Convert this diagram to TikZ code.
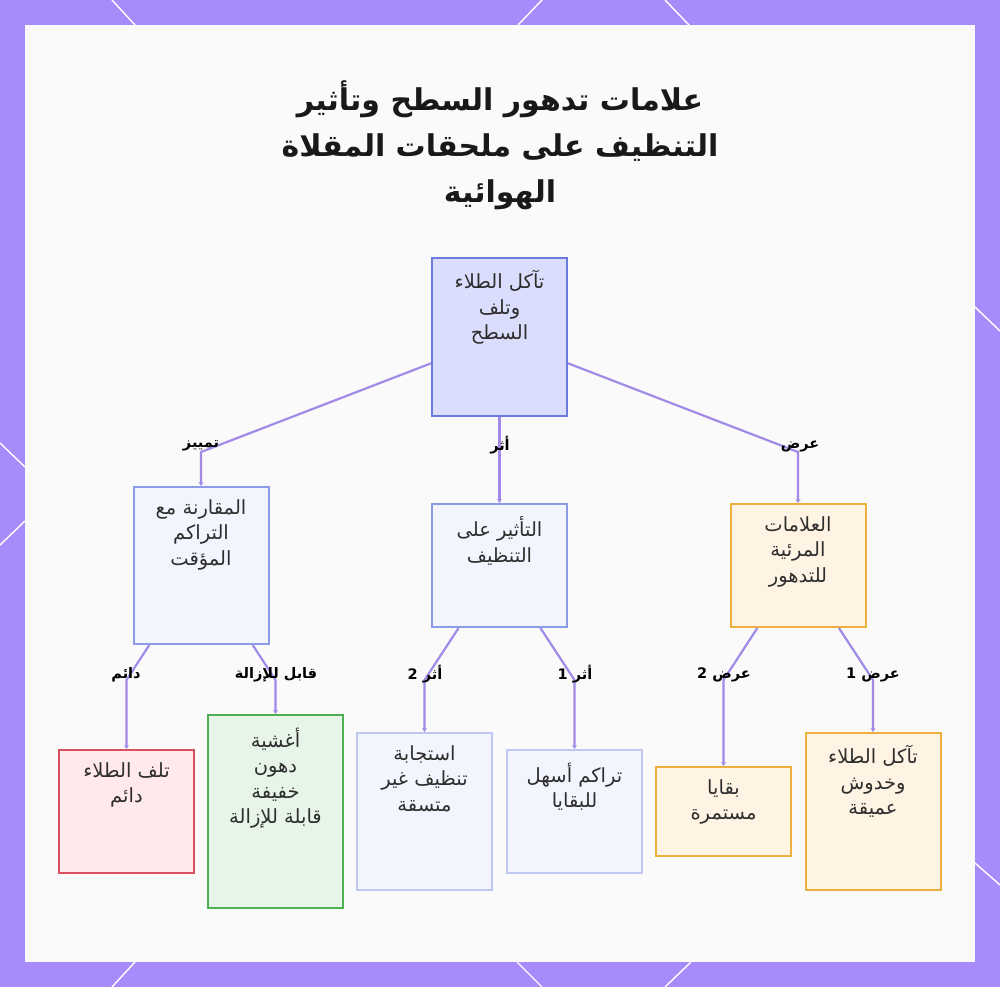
\documentclass[tikz,border=0pt]{standalone}
\usepackage{fontspec}
\newfontfamily\arabicfont[Script=Arabic]{DejaVu Sans}
\TeXXeTstate=1
\usetikzlibrary{arrows.meta}
\definecolor{bgpurple}{HTML}{A78BFA}
\definecolor{panelbg}{HTML}{FAFAFA}
\definecolor{edgepurple}{HTML}{A28AE8}
\definecolor{rootfill}{HTML}{DADDFB}
\definecolor{rootdraw}{HTML}{6C7BD9}
\definecolor{bluefill}{HTML}{F3F5FE}
\definecolor{bluedraw}{HTML}{8C9BE6}
\definecolor{paledraw}{HTML}{BFC7F2}
\definecolor{orangefill}{HTML}{FFF3E3}
\definecolor{orangedraw}{HTML}{EEB03C}
\definecolor{redfill}{HTML}{FFE9EC}
\definecolor{reddraw}{HTML}{D8505F}
\definecolor{greenfill}{HTML}{E7F5E8}
\definecolor{greendraw}{HTML}{4CAF50}
\definecolor{textgray}{HTML}{2E2E2E}
\newcommand{\artxt}[1]{\beginR #1\endR}
\begin{document}
\begin{tikzpicture}[x=1pt,y=-1pt,
  box/.style={draw, line width=2pt, minimum width=135pt, inner sep=0pt},
  rootbox/.style={box, draw=rootdraw, fill=rootfill},
  bluebox/.style={box, draw=bluedraw, fill=bluefill},
  palebox/.style={box, draw=paledraw, fill=bluefill},
  orangebox/.style={box, draw=orangedraw, fill=orangefill},
  redbox/.style={box, draw=reddraw, fill=redfill},
  greenbox/.style={box, draw=greendraw, fill=greenfill},
  txt/.style={font=\arabicfont\fontsize{19.5}{25.5}\selectfont, align=center, anchor=north, text=textgray},
  lbl/.style={font=\arabicfont\bfseries\fontsize{14.5}{16}\selectfont, text=black},
  title/.style={font=\arabicfont\bfseries\fontsize{30}{46}\selectfont, align=center, text=black!90},
  edge/.style={draw=edgepurple, line width=2.2pt, -{Stealth[length=4pt,width=5pt]}},
  deco/.style={white, line width=1.4pt}
]
\useasboundingbox (0,0) rectangle (1000,987);
% frame
\fill[bgpurple] (0,0) rectangle (1000,987);
\draw[deco] (112,0) -- (135,25);
\draw[deco] (542,0) -- (518,25);
\draw[deco] (665,0) -- (689,25);
\draw[deco] (135,962) -- (112,987);
\draw[deco] (517,962) -- (542,987);
\draw[deco] (691,962) -- (665,987);
\draw[deco] (0,443) -- (25,467);
\draw[deco] (0,545) -- (25,521);
\draw[deco] (975,307) -- (1000,331);
\draw[deco] (975,863) -- (1000,885);
\fill[panelbg] (25,25) rectangle (975,962);

% title
\node[title] (title) at (500,145) {\artxt{علامات تدهور السطح وتأثير}\\\artxt{التنظيف على ملحقات المقلاة}\\\artxt{الهوائية}};

% boxes
\node[rootbox, minimum height=158pt] (root) at (499.5,337) {};
\node[bluebox, minimum height=157pt] (cmp) at (201,565.5) {};
\node[bluebox, minimum height=123pt] (eff) at (499.5,565.5) {};
\node[orangebox, minimum height=123pt] (vis) at (798,565.5) {};
\node[redbox, minimum height=123pt] (perm) at (126.5,811.5) {};
\node[greenbox, minimum height=193pt] (film) at (275.5,811.5) {};
\node[palebox, minimum height=157pt] (uneven) at (424.5,811.5) {};
\node[palebox, minimum height=123pt] (accum) at (574.5,811.5) {};
\node[orangebox, minimum height=89pt] (resid) at (723.5,811.5) {};
\node[orangebox, minimum height=157pt] (scratch) at (873,811.5) {};

% box texts
\node[txt] (rootT) at ([yshift=-10pt]root.north) {\artxt{تآكل الطلاء}\\\artxt{وتلف}\\\artxt{السطح}};
\node[txt] (cmpT) at ([yshift=-10pt]cmp.north) {\artxt{المقارنة مع}\\\artxt{التراكم}\\\artxt{المؤقت}};
\node[txt] (effT) at ([yshift=-10pt]eff.north) {\artxt{التأثير على}\\\artxt{التنظيف}};
\node[txt] (visT) at ([yshift=-10pt]vis.north) {\artxt{العلامات}\\\artxt{المرئية}\\\artxt{للتدهور}};
\node[txt] (permT) at ([yshift=-10pt]perm.north) {\artxt{تلف الطلاء}\\\artxt{دائم}};
\node[txt] (filmT) at ([yshift=-10pt]film.north) {\artxt{أغشية}\\\artxt{دهون}\\\artxt{خفيفة}\\\artxt{قابلة للإزالة}};
\node[txt] (unevenT) at ([yshift=-10pt]uneven.north) {\artxt{استجابة}\\\artxt{تنظيف غير}\\\artxt{متسقة}};
\node[txt] (accumT) at ([yshift=-10pt]accum.north) {\artxt{تراكم أسهل}\\\artxt{للبقايا}};
\node[txt] (residT) at ([yshift=-10pt]resid.north) {\artxt{بقايا}\\\artxt{مستمرة}};
\node[txt] (scratchT) at ([yshift=-10pt]scratch.north) {\artxt{تآكل الطلاء}\\\artxt{وخدوش}\\\artxt{عميقة}};

% connectors
\coordinate (bA) at (201,452);
\coordinate (bC) at (798,452);
\coordinate (b1) at (126.5,680);
\coordinate (b2) at (275.5,680);
\coordinate (b3) at (424.5,680);
\coordinate (b4) at (574.5,680);
\coordinate (b5) at (723.5,680);
\coordinate (b6) at (873,680);
\draw[edge] (root) -- (bA) -- (cmp);
\draw[edge] (root) -- (eff);
\draw[edge] (root) -- (bC) -- (vis);
\draw[edge] (cmp) -- (b1) -- (perm);
\draw[edge] (cmp) -- (b2) -- (film);
\draw[edge] (eff) -- (b3) -- (uneven);
\draw[edge] (eff) -- (b4) -- (accum);
\draw[edge] (vis) -- (b5) -- (resid);
\draw[edge] (vis) -- (b6) -- (scratch);

% connector labels
\node[lbl] (lA) at (201,446) {\artxt{تمييز}};
\node[lbl] (lB) at (500,445) {\artxt{أثر}};
\node[lbl] (lC) at (800,446) {\artxt{عرض}};
\node[lbl] (l1) at (126,675) {\artxt{دائم}};
\node[lbl] (l2) at (276,675) {\artxt{قابل للإزالة}};
\node[lbl] (l3) at (425,674) {\artxt{أثر 2}};
\node[lbl] (l4) at (575,674) {\artxt{أثر 1}};
\node[lbl] (l5) at (724,675) {\artxt{عرض 2}};
\node[lbl] (l6) at (873,675) {\artxt{عرض 1}};
\end{tikzpicture}
\end{document}
